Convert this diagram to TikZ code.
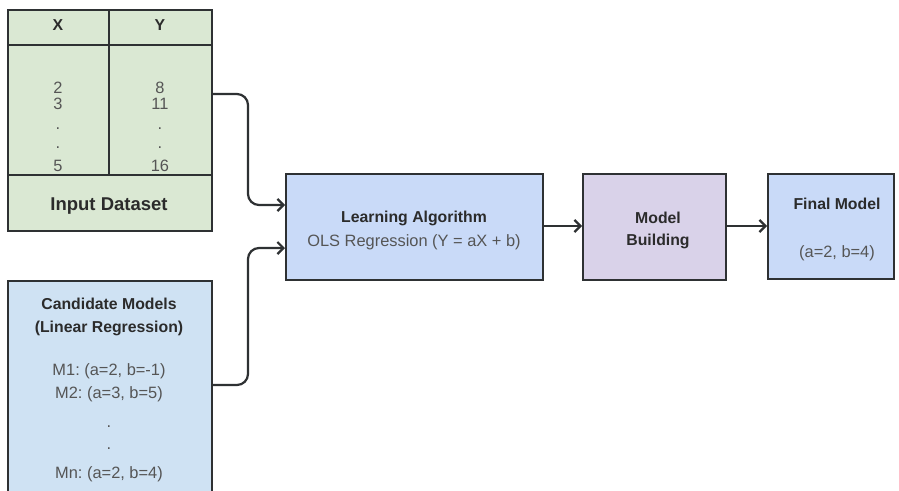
\documentclass[tikz,border=0pt]{standalone}
\usepackage{fontspec}
\setmainfont{Liberation Sans}
\usetikzlibrary{arrows.meta}
\frenchspacing
\definecolor{dsgreen}{HTML}{DAE8D3}
\definecolor{lablue}{HTML}{C9DAF8}
\definecolor{cmblue}{HTML}{CFE2F3}
\definecolor{mbpurple}{HTML}{D9D2E9}
\definecolor{edge}{HTML}{2E3133}
\definecolor{bold}{HTML}{2B2B2B}
\definecolor{light}{HTML}{555555}
\tikzset{
  box/.style={draw=edge, line width=2.2pt, inner sep=0pt, anchor=north west},
  bt/.style={font=\fontsize{15.8}{18}\selectfont\bfseries, text=bold, inner sep=0pt, align=center},
  lt/.style={font=\fontsize{16.4}{18}\selectfont, text=light, inner sep=0pt, align=center},
  arr/.style={draw=edge, line width=2.2pt, rounded corners=11pt, -{Straight Barb[length=6pt,width=12pt]}},
}
\begin{document}
\begin{tikzpicture}[x=1pt,y=-1pt]
\useasboundingbox[fill=white] (0,0) rectangle (899,490);
% dataset table
\node[box, fill=dsgreen, minimum width=101pt, minimum height=35pt] (hx) at (7,9) {};
\node[box, fill=dsgreen, minimum width=103pt, minimum height=35pt] (hy) at (108,9) {};
\node[box, fill=dsgreen, minimum width=101pt, minimum height=130pt] (dx) at (7,44) {};
\node[box, fill=dsgreen, minimum width=103pt, minimum height=130pt] (dy) at (108,44) {};
\node[box, fill=dsgreen, minimum width=204pt, minimum height=56pt] (foot) at (7,174) {};
\node[bt] (tx) at (58,25) {X};
\node[bt] (ty) at (160,25) {Y};
\node[lt] (x1) at (58,88) {2};
\node[lt] (x2) at (58,104) {3};
\node[lt] (x3) at (58,129) {.};
\node[lt] (x4) at (58,148) {.};
\node[lt] (x5) at (58,166) {5};
\node[lt] (y1) at (160,88) {8};
\node[lt] (y2) at (160,104) {11};
\node[lt] (y3) at (160,129) {.};
\node[lt] (y4) at (160,148) {.};
\node[lt] (y5) at (160,166) {16};
\node[bt, font=\fontsize{18.5}{20}\selectfont\bfseries] (tin) at (109,206) {Input Dataset};
% candidate models
\node[box, fill=cmblue, minimum width=204pt, minimum height=220pt] (cm) at (7,280) {};
\node[bt] (c1) at (109,304) {Candidate Models};
\node[bt] (c2) at (109,328) {(Linear Regression)};
\node[lt] (c3) at (109,371) {M1: (a=2, b=-1)};
\node[lt] (c4) at (109,394) {M2: (a=3, b=5)};
\node[lt] (c5) at (109,427) {.};
\node[lt] (c6) at (109,449) {.};
\node[lt] (c7) at (109,474) {Mn: (a=2, b=4)};
% learning algorithm
\node[box, fill=lablue, minimum width=257pt, minimum height=106pt] (la) at (285,173) {};
\node[bt] (l1) at (414,218) {Learning Algorithm};
\node[lt] (l2) at (414,242) {OLS Regression (Y = aX + b)};
% model building
\node[box, fill=mbpurple, minimum width=143pt, minimum height=106pt] (mb) at (582,173) {};
\node[bt] (m1) at (658,218) {Model};
\node[bt] (m2) at (658,241) {Building};
% final model
\node[box, fill=lablue, minimum width=126pt, minimum height=105pt] (fm) at (767,173) {};
\node[bt] (f1) at (837,204) {Final Model};
\node[lt] (f2) at (837,253) {(a=2, b=4)};
% connectors
\coordinate (k1) at (248,94);
\coordinate (k2) at (248,205);
\coordinate (k3) at (248,385);
\coordinate (k4) at (248,248);
\draw[arr] (dy.east |- k1) -- (k1) -- (k2) -- (la.west |- k2);
\draw[arr] (cm.east |- k3) -- (k3) -- (k4) -- (la.west |- k4);
\draw[arr] (la.east |- 0,226) -- (mb.west |- 0,226);
\draw[arr] (mb.east |- 0,226) -- (fm.west |- 0,226);
\end{tikzpicture}
\end{document}
